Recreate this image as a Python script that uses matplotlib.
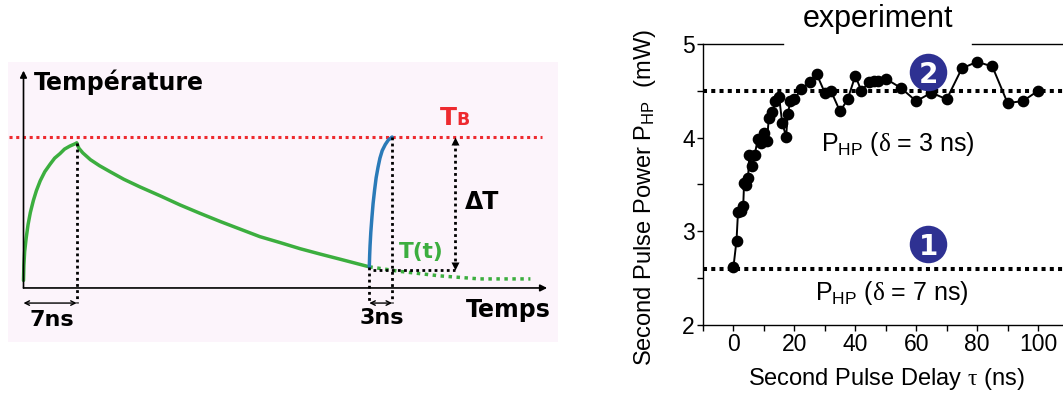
import matplotlib
matplotlib.use("Agg")
import matplotlib.pyplot as plt

plt.rcParams["font.family"] = ["Liberation Sans", "DejaVu Sans"]
plt.rcParams["mathtext.fontset"] = "custom"
plt.rcParams["mathtext.rm"] = "Liberation Sans"
plt.rcParams["mathtext.it"] = "Liberation Sans:italic"
plt.rcParams["mathtext.bf"] = "Liberation Sans:bold"
plt.rcParams["mathtext.sf"] = "Liberation Serif"

# ---------------- schematic: temperature vs time (ns, T normalised to T_B) ----------------
heat_t = [0, 0.05, 0.15, 0.35, 0.6, 0.9, 1.3, 1.7, 2.2, 2.8, 3.5, 4.1, 4.8, 5.4, 6.1, 7.0]
heat_T = [0.05, 0.15, 0.24, 0.33, 0.42, 0.50, 0.58, 0.645, 0.71, 0.77, 0.82, 0.86,
          0.89, 0.92, 0.94, 0.96]
cool_t = [7.0, 7.3, 7.8, 8.8, 10.0, 11.4, 13.2, 15.3, 18.0, 20.6, 23.2, 25.9, 28.5,
          31.1, 33.8, 36.4, 39.0, 41.7, 43.6, 45.5]
cool_T = [0.96, 0.925, 0.895, 0.85, 0.81, 0.77, 0.72, 0.67, 0.61, 0.55, 0.495, 0.44,
          0.39, 0.34, 0.30, 0.26, 0.225, 0.19, 0.165, 0.14]
pulse2_t = [45.5, 45.55, 45.6, 45.7, 45.85, 46.0, 46.2, 46.4, 46.65, 46.9, 47.2, 47.6,
            48.0, 48.5]
pulse2_T = [0.14, 0.22, 0.28, 0.37, 0.47, 0.56, 0.65, 0.73, 0.80, 0.86, 0.91, 0.95,
            0.98, 1.0]
tail_t = [45.5, 49.5, 54.8, 60.0, 66.7]
tail_T = [0.14, 0.11, 0.08, 0.06, 0.06]
T_B = 1.0
first_pulse = 7.0   # ns
second_start = 45.5
second_pulse = 3.0  # ns

# ---------------- measurement: second pulse power vs delay ----------------
delay_ns = [0, 1, 1.5, 2.5, 3.2, 3.5, 4.2, 4.8, 5.2, 6.0, 7.0, 8.0, 9.0, 10.0,
            11.0, 11.6, 12.7, 13.8, 15.0, 16.0, 17.3, 17.8, 18.7, 20.0, 22.2,
            25.0, 27.3, 30.0, 32.0, 35.0, 37.5, 40.0, 42.0, 44.5, 46.0, 47.5,
            50.0, 55.0, 60.0, 65.0, 70.0, 75.0, 80.0, 85.0, 90.0, 95.0, 100.0]
power_mW = [2.62, 2.90, 3.21, 3.22, 3.27, 3.52, 3.49, 3.57, 3.82, 3.70, 3.82,
            3.99, 3.94, 4.05, 3.96, 4.21, 4.27, 4.39, 4.43, 4.16, 4.01, 4.25,
            4.39, 4.41, 4.52, 4.59, 4.68, 4.48, 4.50, 4.28, 4.41, 4.66, 4.50,
            4.59, 4.60, 4.61, 4.63, 4.53, 4.39, 4.48, 4.41, 4.74, 4.81, 4.76,
            4.37, 4.39, 4.50]
p_short = 4.5   # P_HP for delta = 3 ns
p_long = 2.6    # P_HP for delta = 7 ns
x_ticks = [0, 20, 40, 60, 80, 100]
y_ticks = [2, 3, 4, 5]

W, H = 1063, 396
fig = plt.figure(figsize=(W / 100, H / 100), dpi=100)

GREEN = "#3cae3f"
BLUE = "#2a7ab8"
RED = "#ee2a2f"
NAVY = "#2e3192"

# ---------------- left panel ----------------
ax1 = fig.add_axes([8 / W, (H - 342) / H, 550 / W, 280 / H])
ax1.set_facecolor("#fcf4fb")
for s in ax1.spines.values():
    s.set_visible(False)
ax1.set_xticks([])
ax1.set_yticks([])
ax1.set_xlim(-2.04, 70.33)
ax1.set_ylim(-0.358, 1.497)

# axes arrows
ax1.annotate("", xy=(0, 1.44), xytext=(0, 0),
             arrowprops=dict(arrowstyle="-|>", lw=1.2, color="black", mutation_scale=10,
                             shrinkA=0, shrinkB=0))
ax1.annotate("", xy=(68.9, 0), xytext=(0, 0),
             arrowprops=dict(arrowstyle="-|>", lw=1.2, color="black", mutation_scale=10,
                             shrinkA=0, shrinkB=0))

# T_B level
ax1.plot([-1.9, 68.2], [T_B, T_B], color=RED, lw=2.2, ls=(0, (1, 1.2)))

# temperature curves
ax1.plot(heat_t, heat_T, color=GREEN, lw=2.5, solid_capstyle="round", solid_joinstyle="round")
ax1.plot(cool_t, cool_T, color=GREEN, lw=2.5, solid_capstyle="round", solid_joinstyle="round")
ax1.plot(tail_t, tail_T, color=GREEN, lw=2.5, ls=(0, (1, 1.3)))
ax1.plot(pulse2_t, pulse2_T, color=BLUE, lw=2.5, solid_capstyle="round",
         solid_joinstyle="round")

# guide lines
dot = dict(color="black", lw=2.0, ls=(0, (1, 1.2)))
ax1.plot([first_pulse, first_pulse], [heat_T[-1], -0.1], **dot)
ax1.plot([second_start, second_start], [pulse2_T[0], -0.1], **dot)
ax1.plot([second_start + second_pulse] * 2, [T_B, -0.1], **dot)
ax1.plot([46.0, 56.8], [0.12, 0.12], **dot)
ax1.plot([56.8, 56.8], [0.97, 0.15], **dot)
ax1.plot([56.8], [0.975], marker="^", color="black", ms=6, mec="none")
ax1.plot([56.8], [0.145], marker="v", color="black", ms=6, mec="none")

# pulse-length arrows
arr = dict(arrowstyle="<->", lw=1.0, color="black", mutation_scale=8, shrinkA=0, shrinkB=0)
ax1.annotate("", xy=(0, -0.1), xytext=(first_pulse, -0.1), arrowprops=arr)
ax1.annotate("", xy=(second_start, -0.1), xytext=(second_start + second_pulse, -0.1),
             arrowprops=arr)

bold = dict(family="DejaVu Sans", fontweight="bold")
ax1.text(1.38, 1.364, "Température", fontsize=17, ha="left", va="center", **bold)
ax1.text(63.75, -0.146, "Temps", fontsize=17, ha="center", va="center", **bold)
ax1.text(3.7, -0.21, "7ns", fontsize=16, ha="center", va="center", **bold)
ax1.text(47.1, -0.20, "3ns", fontsize=16, ha="center", va="center", **bold)
ax1.text(60.3, 0.57, "ΔT", fontsize=17, ha="center", va="center", **bold)
ax1.text(52.4, 0.238, "T(t)", fontsize=15.5, ha="center", va="center", color=GREEN, **bold)
ax1.text(54.8, 1.08, "T", fontsize=18, ha="left", va="baseline", color=RED, **bold)
ax1.text(56.9, 1.08, "B", fontsize=12.5, ha="left", va="baseline", color=RED, **bold)

# ---------------- right panel ----------------
ax2 = fig.add_axes([703 / W, (H - 325) / H, (W - 703) / W, (325 - 44) / H])
ax2.set_xlim(-10, 108.2)
ax2.set_ylim(2, 5)
ax2.spines["right"].set_visible(False)
ax2.spines["top"].set_visible(False)
ax2.spines["left"].set_linewidth(1.0)
ax2.spines["bottom"].set_linewidth(1.0)
ax2.plot([0, 0.222], [1, 1], transform=ax2.transAxes, color="black", lw=1.0, clip_on=False)
ax2.plot([0.747, 1.0], [1, 1], transform=ax2.transAxes, color="black", lw=1.0, clip_on=False)

ax2.set_xticks(x_ticks)
ax2.set_xticks([-10, 10, 30, 50, 70, 90], minor=True)
ax2.set_yticks(y_ticks)
ax2.set_yticks([2.5, 3.5, 4.5], minor=True)
ax2.tick_params(which="both", direction="out", length=4, width=1.0, labelsize=16.5, pad=2)

ax2.axhline(p_short, color="black", lw=2.9, ls=(0, (1, 1.05)))
ax2.axhline(p_long, color="black", lw=2.9, ls=(0, (1, 1.05)))

ax2.plot(delay_ns, power_mW, color="black", lw=1.4, marker="o", ms=7.4, zorder=5)

for lbl, yv in (("2", 4.70), ("1", 2.86)):
    ax2.plot([63.9], [yv], marker="o", ms=27, color=NAVY, mec="none", zorder=6)
    ax2.text(63.9, yv, lbl, color="white", fontsize=20, fontweight="bold",
             family="DejaVu Sans", ha="center", va="center_baseline", zorder=7)

ax2.text(54.0, 3.93, r"P$_\mathrm{HP}$ ($\mathsf{\delta}$ = 3 ns)", fontsize=18,
         ha="center", va="center")
ax2.text(52.0, 2.34, r"P$_\mathrm{HP}$ ($\mathsf{\delta}$ = 7 ns)", fontsize=18,
         ha="center", va="center")

ax2.text(0.485, 1.06, "experiment", transform=ax2.transAxes, fontsize=22,
         ha="center", va="baseline")

ax2.set_xlabel(r"Second Pulse Delay $\mathsf{\tau}$ (ns)", fontsize=17, va="center")
ax2.xaxis.set_label_coords(0.508, -0.192)
ax2.set_ylabel(r"Second Pulse Power P$_\mathrm{HP}$  (mW)", fontsize=17, va="center")
ax2.yaxis.set_label_coords(-0.161, 0.452)

fig.savefig("out.png", dpi=100)
